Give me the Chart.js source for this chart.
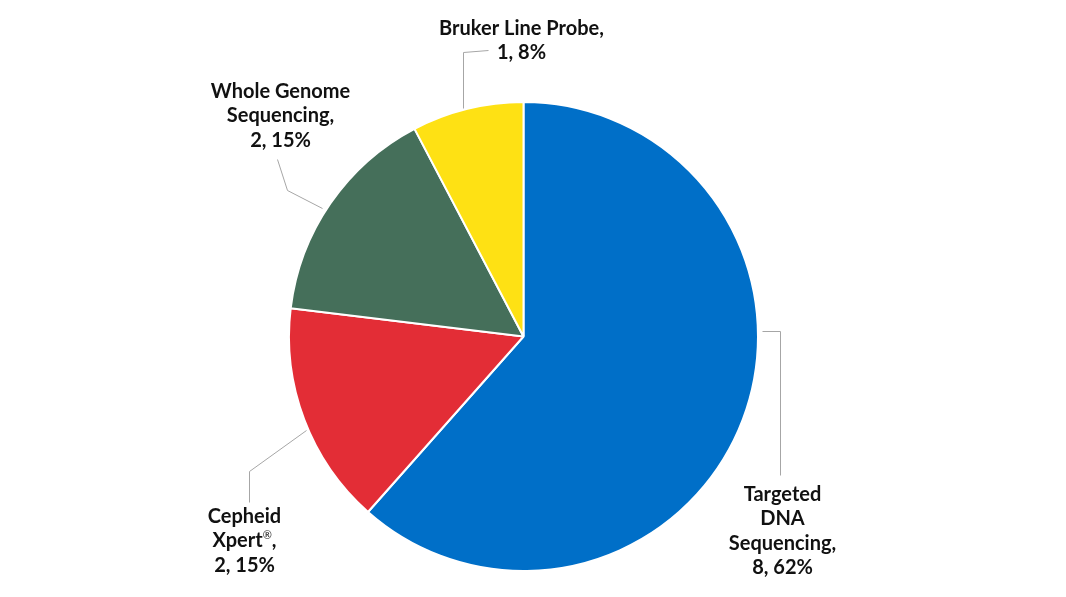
<!DOCTYPE html>
<html>
<head>
<meta charset="utf-8">
<script src="https://cdn.jsdelivr.net/npm/chart.js@4"></script>
<style>
  html, body { margin: 0; padding: 0; background: #fff; }
  #wrap { width: 1066px; height: 597px; }
</style>
</head>
<body>
<div id="wrap"><canvas id="pieChart"></canvas></div>
<script>
// DATA
const categories = ['Targeted DNA Sequencing', 'Cepheid Xpert®', 'Whole Genome Sequencing', 'Bruker Line Probe'];
const counts = [8, 2, 2, 1];
const sliceColors = ['#006FC8', '#E32D36', '#456F5A', '#FEE114'];

// label text lines, per slice ('^' marks a superscript part)
const labelLines = [
  ['Targeted', 'DNA', 'Sequencing,'],
  ['Cepheid', ['Xpert', '^®', ',']],
  ['Whole Genome', 'Sequencing,'],
  ['Bruker Line Probe,']
];

// label placement relative to pie centre (dx, dy of first line) and leader path
const labelPlace = [
  { x: 259, y: 158, line: [[238, -6], [256, -6], [256, 138]] },
  { x: -279, y: 180, line: [[-218, 93], [-275, 134], [-275, 165]] },
  { x: -243, y: -245, line: [[-202, -129], [-237, -147], [-247, -178]] },
  { x: -2, y: -308, line: [[-61, -229], [-61, -285], [-36, -287]] }
];

const total = counts.reduce((a, b) => a + b, 0);
const mainFont = '700 20px Lato, "Open Sans", sans-serif';
const supFont = '400 11px Lato, "Open Sans", sans-serif';

function drawLine(ctx, parts, x, y) {
  // parts: string, or array of strings ('^' prefix => superscript)
  if (typeof parts === 'string') parts = [parts];
  let widths = parts.map(s => {
    ctx.font = s[0] === '^' ? supFont : mainFont;
    return ctx.measureText(s[0] === '^' ? s.slice(1) : s).width;
  });
  let w = widths.reduce((a, b) => a + b, 0);
  let px = x - w / 2;
  ctx.textAlign = 'left';
  parts.forEach((s, i) => {
    if (s[0] === '^') {
      ctx.font = supFont;
      ctx.fillText(s.slice(1), px, y - 6);
    } else {
      ctx.font = mainFont;
      ctx.fillText(s, px, y);
    }
    px += widths[i];
  });
}

const labelPlugin = {
  id: 'sliceLabels',
  afterDatasetsDraw(chart) {
    const ctx = chart.ctx;
    const arcs = chart.getDatasetMeta(0).data;
    const cx = arcs[0].x, cy = arcs[0].y;
    ctx.save();
    // leader lines
    ctx.strokeStyle = '#A6A6A6';
    ctx.lineWidth = 1;
    labelPlace.forEach(p => {
      ctx.beginPath();
      p.line.forEach((pt, i) => {
        const px = Math.round(cx + pt[0]) + 0.5, py = Math.round(cy + pt[1]) + 0.5;
        if (i === 0) ctx.moveTo(px, py); else ctx.lineTo(px, py);
      });
      ctx.stroke();
    });
    // text
    ctx.fillStyle = '#111';
    ctx.textBaseline = 'middle';
    counts.forEach((v, i) => {
      const pct = Math.round(v / total * 100);
      const lines = labelLines[i].concat([v + ', ' + pct + '%']);
      const p = labelPlace[i];
      lines.forEach((t, k) => {
        drawLine(ctx, t, cx + p.x, cy + p.y + k * 24.5);
      });
    });
    ctx.restore();
  }
};

const dataPie = {
  labels: categories,
  datasets: [{
    data: counts,
    backgroundColor: sliceColors,
    borderColor: '#ffffff',
    borderWidth: 2
  }]
};

const configPie = {
  type: 'pie',
  data: dataPie,
  options: {
    responsive: true,
    maintainAspectRatio: false,
    animation: false,
    layout: {
      padding: { top: 101, bottom: 25, left: 288, right: 307 }
    },
    plugins: {
      legend: { display: false },
      tooltip: { enabled: false }
    }
  },
  plugins: [labelPlugin]
};

const pieChart = new Chart(
  document.getElementById('pieChart'),
  configPie
);
</script>
</body>
</html>
